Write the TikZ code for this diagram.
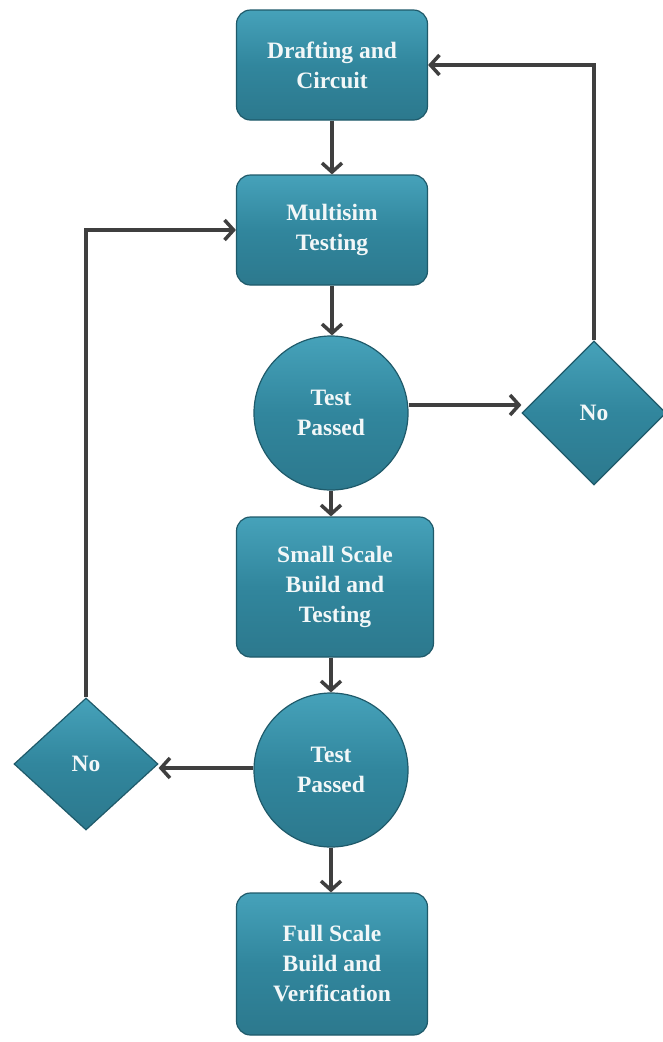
\documentclass[tikz,border=0pt]{standalone}
\usepackage{fontspec}
\setmainfont{Liberation Serif}
\usetikzlibrary{shapes.geometric,arrows.meta}
\definecolor{tealfill}{HTML}{31869D}
\definecolor{tealtop}{HTML}{46A2BA}
\definecolor{tealedge}{HTML}{1F5A6A}
\definecolor{arrowgray}{HTML}{3F3F3F}
\definecolor{txt}{HTML}{F2F7F8}
\tikzset{
  shapebase/.style={draw=tealedge, line width=1.2pt, top color=tealtop, bottom color=tealfill!90!black, middle color=tealfill,
    text=txt, font=\bfseries\fontsize{23.5}{30}\selectfont, align=center, inner sep=0pt},
  procbox/.style={shapebase, rounded corners=14pt, minimum width=191pt},
  decision/.style={shapebase, circle, minimum size=154pt},
  nobox/.style={shapebase, diamond, minimum width=144pt},
  flow/.style={draw=arrowgray, line width=3.5pt, -{Straight Barb[length=9pt,width=20pt,line width=3.5pt]}}
}
\begin{document}
\begin{tikzpicture}[x=1pt,y=-1pt]
\useasboundingbox[fill=white] (0,0) rectangle (662,1042);
\node[procbox, minimum height=110pt] (draft) at (332,65) {Drafting and\\Circuit};
\node[procbox, minimum height=110pt] (multi) at (332,230) {Multisim\\Testing};
\node[decision] (t1) at (331,413) {Test\\Passed};
\node[nobox, minimum height=144pt] (no1) at (594,413) {No};
\node[procbox, minimum width=197pt, minimum height=140pt] (small) at (335,587) {Small Scale\\Build and\\Testing};
\node[decision] (t2) at (331,770) {Test\\Passed};
\node[nobox, minimum height=132pt] (no2) at (86,764) {No};
\node[procbox, minimum height=142pt] (full) at (332,964) {Full Scale\\Build and\\Verification};
\draw[flow] (draft.south) -- (multi.north);
\draw[flow] (multi.south) -- (multi.south |- t1.north);
\draw[flow] (t1.south) -- (t1.south |- small.north);
\draw[flow] (t2.north |- small.south) -- (t2.north);
\draw[flow] (t2.south) -- (t2.south |- full.north);
\draw[flow] (t1.east) ++(0,-8) coordinate (a1) -- (a1 -| no1.west);
\draw[flow] (t2.west) ++(0,-2) coordinate (a2) -- (a2 -| no2.east);
\draw[flow] (no1.north) -- (no1.north |- draft.east) -- (draft.east);
\draw[flow] (no2.north) -- (no2.north |- multi.west) -- (multi.west);
\end{tikzpicture}
\end{document}
